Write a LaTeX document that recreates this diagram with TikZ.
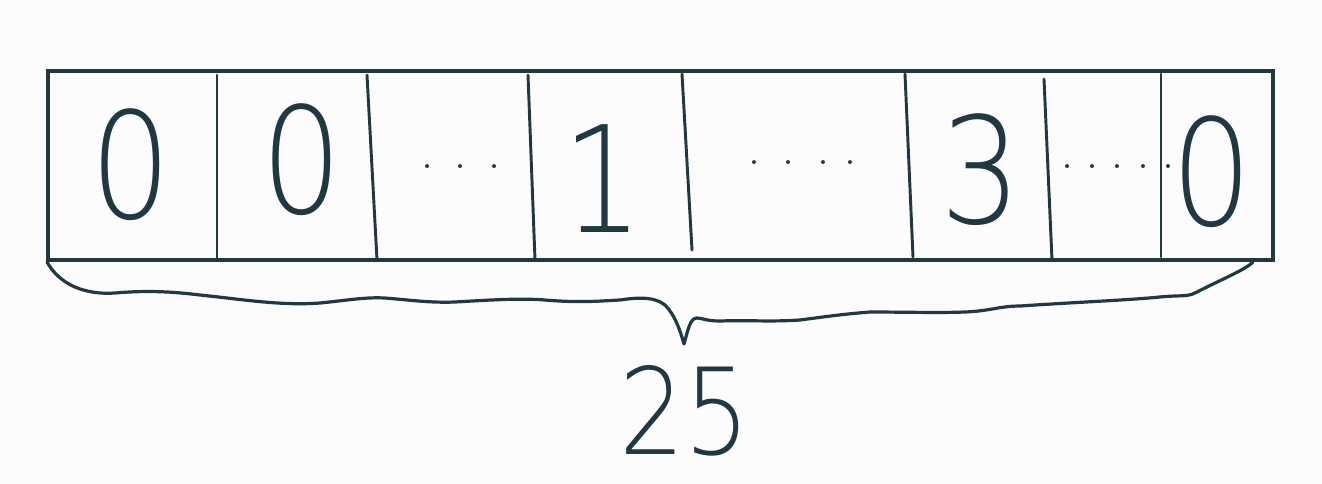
\documentclass[tikz,border=0pt]{standalone}
\usepackage{fontspec}
\usepackage{tikz}
\IfFontExistsTF{DejaVuSans-ExtraLight.ttf}
  {\newfontfamily\sketchfont{DejaVuSans-ExtraLight.ttf}[FakeStretch=0.86]\newcommand\sketchsize{111}\newcommand\sumsize{90}}
  {\newfontfamily\sketchfont{lmmonolt10-regular.otf}\newcommand\sketchsize{124}\newcommand\sumsize{102}}
\definecolor{inkslate}{RGB}{31,56,66}
\definecolor{paper}{RGB}{252,252,252}

\begin{document}
\begin{tikzpicture}[x=0.75pt,y=0.75pt,yscale=-1,xscale=1,
  frame/.style={draw=inkslate, line width=2.4pt},
  divider/.style={draw=inkslate, line width=2.2pt, line cap=round},
  digit/.style={text=inkslate, inner sep=0pt, font=\fontsize{\sketchsize}{\sketchsize}\sketchfont},
  sumdigit/.style={text=inkslate, inner sep=0pt, font=\fontsize{\sumsize}{\sumsize}\sketchfont},
  dotrow/.style={text=inkslate, inner sep=0pt, font=\fontsize{36}{36}\selectfont},
  brace/.style={draw=inkslate, line width=2.4pt, line cap=round, line join=round}]
%set diagram to the size of the sketch: 1322 x 483
\fill [paper] (0,0) rectangle (1322,483);
\useasboundingbox (0,0) rectangle (1322,483);

%Shape: Rectangle [id:strip]
\draw [frame] (48,71) rectangle (1273,260);

%Straight Lines [id:cell walls]
\draw [divider] (217,75) -- (217,260) ;
\draw [divider] (367,75) -- (377,260) ;
\draw [divider] (528,75) -- (535,260) ;
\draw [divider] (682,74) -- (692,250) ;
\draw [divider] (905,74) -- (913,257) ;
\draw [divider] (1044,79) -- (1052,260) ;
\draw [divider] (1161,74) -- (1161,257) ;

% Text Node
\draw (131,165) node [digit] (zeroA) {0};
% Text Node
\draw (302,160) node [digit] (zeroB) {0};
% Text Node
\draw (461,167) node [dotrow] (dotsA) {.\hspace{16pt}.\hspace{16pt}.};
% Text Node
\draw (603,179) node [digit] (one) {1};
% Text Node
\draw (802,163) node [dotrow] (dotsB) {.\hspace{17pt}.\hspace{17pt}.\hspace{11pt}.};
% Text Node
\draw (1118,167) node [dotrow] (dotsC) {.\hspace{10pt}.\hspace{10pt}.\hspace{10pt}.\hspace{10pt}.};
% Text Node
\draw (981,170) node [digit] (three) {3};
% Text Node
\draw (1212,172) node [digit] (zeroC) {0};

%Curve Lines [id:brace]
\coordinate (braceL) at (47,262);
\coordinate (braceR) at (1253,262);
\coordinate (braceTip) at (684,344);
\draw [brace] (braceL) .. controls (60,285) and (85,295) .. (115,293)
  .. controls (150,290) and (175,292) .. (200,295)
  .. controls (240,299) and (280,306) .. (320,303)
  .. controls (350,300) and (365,297) .. (385,298)
  .. controls (410,300) and (430,303) .. (455,302)
  .. controls (490,300) and (520,298) .. (545,300)
  .. controls (580,303) and (600,301) .. (620,300)
  .. controls (640,297) and (655,297) .. (665,305)
  .. controls (675,315) and (680,330) .. (braceTip)
  .. controls (688,330) and (690,318) .. (697,318)
  .. controls (702,318) and (706,321) .. (720,321)
  .. controls (750,320) and (770,322) .. (800,320)
  .. controls (830,316) and (845,314) .. (870,312)
  .. controls (900,312) and (940,313) .. (965,312)
  .. controls (990,311) and (1000,306) .. (1020,306)
  .. controls (1080,302) and (1130,300) .. (1160,297)
  .. controls (1180,295) and (1187,297) .. (1195,293)
  .. controls (1220,280) and (1245,270) .. (braceR) ;

% Text Node
\draw (685,411) node [sumdigit] (total) {25};

\end{tikzpicture}
\end{document}
